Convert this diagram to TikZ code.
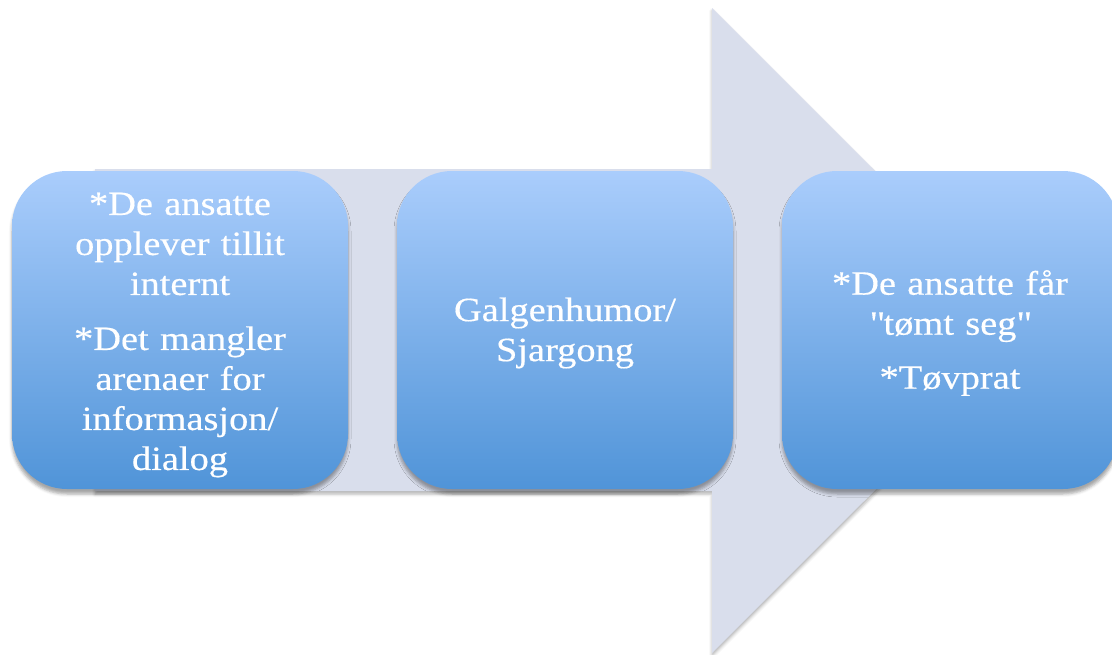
\documentclass[tikz,border=0pt]{standalone}
\usepackage{fontspec}
\setmainfont{Liberation Serif}[FakeStretch=1.13,FakeBold=0.4]
\usetikzlibrary{shadows.blur}
\definecolor{arrowfill}{RGB}{217,222,236}
\definecolor{boxtop}{RGB}{170,205,252}
\definecolor{boxbottom}{RGB}{80,148,216}
\begin{document}
\begin{tikzpicture}[x=1pt,y=-1pt,
  stepbox/.style={rounded corners=55pt, top color=boxtop, bottom color=boxbottom,
    minimum width=336pt, minimum height=318pt, inner sep=0pt,
    blur shadow={shadow xshift=0pt, shadow yshift=-5pt, shadow blur radius=3pt, shadow opacity=35}},
  steptext/.style={text=white, align=center, text width=320pt, inner sep=0pt,
    font=\fontsize{34}{40}\selectfont},
  bigarrow/.style={fill=arrowfill,
    blur shadow={shadow xshift=0pt, shadow yshift=-3pt, shadow blur radius=3pt, shadow opacity=30}}]
\useasboundingbox (0,0) rectangle (1112,654);
% background process arrow
\path[bigarrow] (95,169) -- (712,169) -- (712,8) -- (1035,330.5) -- (712,653)
  -- (712,491) -- (95,491) -- cycle;
% three stages
\node[stepbox] (s1) at (180,330) {};
\node[stepbox] (s2) at (565,330) {};
\node[stepbox] (s3) at (950,330) {};
\node[steptext] (t1) at ([yshift=-5pt]s1.center) {*De ansatte\\opplever tillit\\internt\\[15pt]*Det mangler\\arenaer for\\informasjon/\\dialog};
\node[steptext] (t2) at ([yshift=-3pt]s2.center) {Galgenhumor/\\Sjargong};
\node[steptext] (t3) at ([yshift=-3pt]s3.center) {*De ansatte får\\\textquotedbl tømt seg\textquotedbl\\[14pt]*Tøvprat};
\end{tikzpicture}
\end{document}
